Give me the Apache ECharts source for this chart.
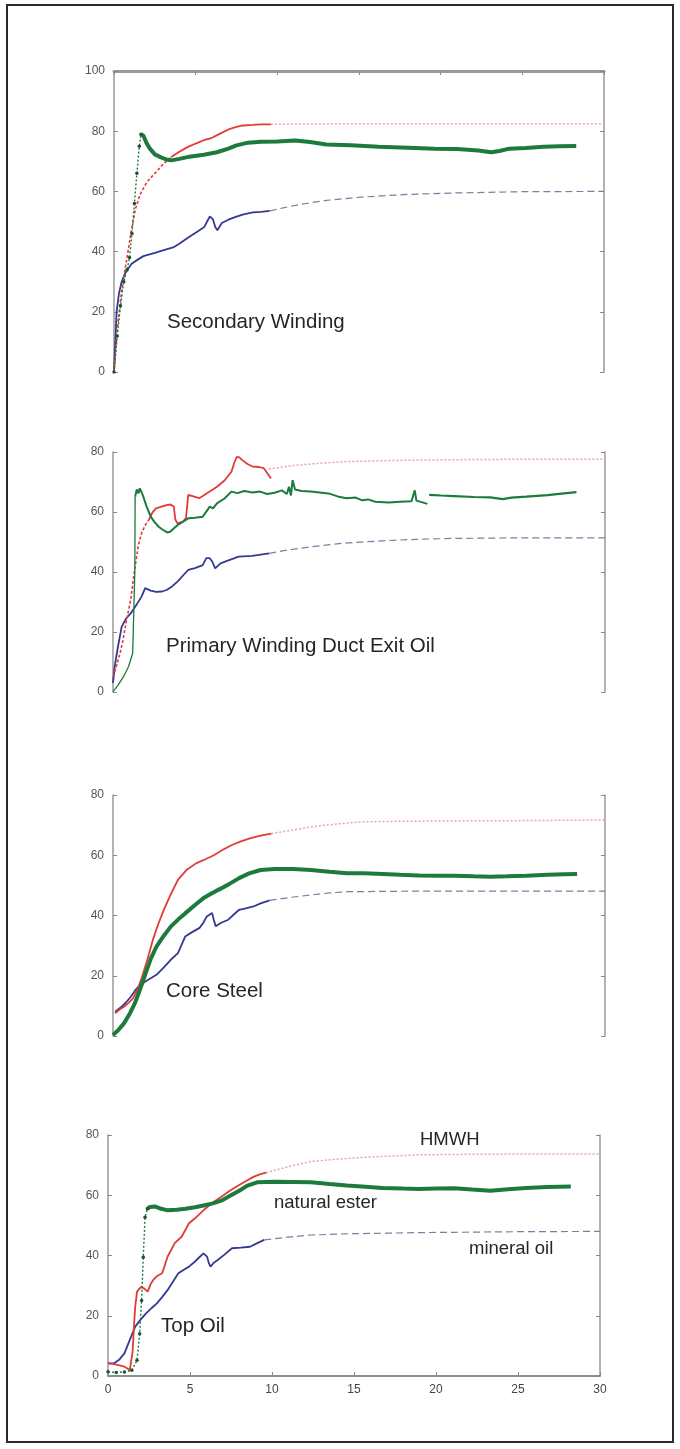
<!DOCTYPE html>
<html>
<head>
<meta charset="utf-8">
<script src="https://cdn.jsdelivr.net/npm/echarts@6/dist/echarts.min.js"></script>
<style>
  html, body { margin: 0; padding: 0; background: #fff; }
  #chart { width: 680px; height: 1449px; }
</style>
</head>
<body>
<div id="chart"></div>
<script>
// Temperature rise (°C) against time (h) for HMWH, natural ester and mineral oil.

const xTickLabels = ['0', '5', '10', '15', '20', '25', '30'];
const panelTitles = ['Secondary Winding', 'Primary Winding Duct Exit Oil', 'Core Steel', 'Top Oil'];
const fluidNames = ['HMWH', 'natural ester', 'mineral oil'];

// ---- Secondary Winding ----
const secRedRise = [[0,0],[0.2,14],[0.4,24],[0.55,30],[0.8,38],[1.0,45],[1.3,54],[1.6,59],[2.0,63],[2.5,66],[3.0,69],[3.5,71.4]];
const secRedMeas = [[3.5,71.4],[4.0,73.2],[4.5,74.7],[5.0,75.9],[5.5,77.0],[6.0,77.8],[6.5,79.2],[7.1,80.8],[7.5,81.4],[7.9,81.9],[8.5,82.1],[9.0,82.3],[9.6,82.3]];
const secRedTrend = [[9.6,82.3],[12,82.4],[15,82.5],[20,82.5],[25,82.5],[30,82.5]];
const secGreenRise = [[0,0],[0.2,12],[0.4,22],[0.6,30],[0.8,34],[0.95,38],[1.1,46],[1.25,56],[1.4,66],[1.55,75],[1.65,79]];
const secGreenMeas = [[1.65,79],[1.8,78.5],[2.0,76],[2.2,74.2],[2.5,72.3],[2.85,71.4],[3.2,70.6],[3.5,70.3],[4.0,70.8],[4.5,71.4],[5.5,72.2],[6.3,73],[7.0,74.2],[7.5,75.3],[8.2,76.2],[9.0,76.5],[10.0,76.6],[11.1,76.9],[12.0,76.4],[13.0,75.6],[14.5,75.3],[16.2,74.8],[18.0,74.5],[19.6,74.2],[21.0,74.1],[22.3,73.6],[23.1,73.0],[23.6,73.4],[24.2,74.2],[25.2,74.4],[26.3,74.8],[27.3,75.0],[28.3,75.1]];
const secBlueMeas = [[0,0],[0.08,10],[0.16,20],[0.3,26],[0.47,30],[0.7,33],[1.08,36],[1.5,37.5],[1.8,38.5],[2.5,39.6],[3.0,40.4],[3.67,41.5],[4.0,42.6],[4.5,44.5],[5.0,46.3],[5.53,48.2],[5.75,50.5],[5.87,51.7],[6.05,50.8],[6.2,48.2],[6.33,47.1],[6.6,49.5],[7.0,50.6],[7.5,51.6],[7.93,52.4],[8.5,53.0],[9.0,53.2],[9.53,53.5]];
const secBlueTrend = [[9.53,53.5],[10.5,54.7],[11.65,55.9],[13,57],[15.1,58.1],[18,59],[21,59.5],[25,59.9],[30,60.0]];

// ---- Primary Winding Duct Exit Oil ----
const priRedRise = [[0,5.1],[0.2,8.5],[0.43,12.9],[0.6,17],[0.75,21.8],[0.9,26],[1.08,30.7],[1.25,38],[1.41,44],[1.55,49],[1.74,52.9],[1.95,55.5],[2.18,57.3]];
const priRedMeas = [[2.18,57.3],[2.4,59.8],[2.62,61.2],[2.95,61.8],[3.27,62.3],[3.5,62.5],[3.71,61.8],[3.8,57.5],[3.93,56.2],[4.26,56.8],[4.45,58],[4.59,65.7],[4.9,65.2],[5.25,64.6],[5.5,65.4],[5.7,66.2],[6.0,67.2],[6.34,68.4],[6.8,70.5],[7.22,73.4],[7.4,76.5],[7.55,78.4],[7.7,78.2],[7.88,77.3],[8.2,76.0],[8.53,75.1],[8.9,75.0],[9.19,74.6],[9.4,73.0],[9.63,71.2]];
const priRedTrend = [[9.5,74.3],[11,75.5],[12.5,76.2],[14.23,76.8],[16.5,77.1],[18.6,77.3],[22,77.5],[26,77.6],[30,77.6]];
const priGreenRise = [[0,0.1],[0.3,2.2],[0.64,5.1],[0.95,8.5],[1.2,12.9],[1.3,13.5],[1.33,40],[1.35,65.1]];
const priGreenMeas = [[1.35,65.1],[1.45,67.5],[1.55,66.2],[1.63,67.9],[1.75,66.5],[1.85,65.1],[2.05,61.8],[2.3,58.5],[2.51,56.8],[2.8,55],[3.06,54],[3.3,53.2],[3.49,53.4],[3.7,54.5],[3.93,55.6],[4.2,56.5],[4.59,57.9],[5.0,58.1],[5.47,58.4],[5.7,60.2],[5.9,61.8],[6.1,61.2],[6.34,62.9],[6.8,64.5],[7.22,66.8],[7.6,66.3],[8.0,67.0],[8.5,66.5],[8.97,66.8],[9.4,66.0],[9.85,66.4],[10.3,67.2],[10.6,66.0],[10.73,68.4],[10.85,65.5],[10.95,70.6],[11.1,67.5],[11.5,67.0],[12.04,66.8],[12.6,66.5],[13.14,66.2],[13.7,65.2],[14.23,64.6],[14.8,64.8],[15.2,63.9],[15.55,64.2],[15.99,63.4],[16.8,63.2],[17.52,63.4],[18.2,63.6],[18.4,67.2],[18.5,63.8],[19.17,62.7]];
const priGreenLate = [[19.28,65.7],[20.0,65.5],[20.81,65.3],[22.0,65.0],[23,64.9],[23.77,64.3],[24.3,64.8],[25.2,65.1],[26.5,65.6],[27.5,66.2],[28.26,66.6]];
const priBlueMeas = [[0,3],[0.1,8.4],[0.3,15],[0.53,21.8],[0.8,24.5],[1.08,26.2],[1.4,28.8],[1.74,31.8],[1.96,34.6],[2.3,33.8],[2.62,33.4],[3.0,33.5],[3.27,34],[3.6,35.2],[3.93,36.8],[4.3,39],[4.59,40.7],[5.0,41.3],[5.47,42.3],[5.69,44.6],[5.9,44.6],[6.05,43.5],[6.23,41.2],[6.56,42.9],[7.0,43.8],[7.66,45.1],[8.5,45.4],[9.0,45.8],[9.52,46.2]];
const priBlueTrend = [[9.52,46.2],[10.5,47.2],[12.04,48.4],[14,49.6],[16.43,50.4],[18.5,50.9],[20.81,51.2],[25,51.4],[30,51.4]];

// ---- Core Steel ----
const coreRedMeas = [[0.13,7.5],[0.4,8.8],[0.67,9.7],[0.95,11],[1.22,12.5],[1.5,15.5],[1.77,19.6],[2.1,25.5],[2.43,31.9],[2.75,37],[3.09,41.8],[3.5,46.8],[3.96,51.8],[4.5,55.2],[5.06,57.3],[5.6,58.6],[6.15,60],[6.7,61.8],[7.25,63.4],[7.8,64.6],[8.35,65.6],[9.0,66.5],[9.66,67.2]];
const coreRedTrend = [[9.66,67.2],[10.8,68.2],[12.07,69.4],[13.5,70.3],[15.14,71.1],[18,71.3],[20.84,71.4],[25,71.5],[30,71.7]];
const coreGreenMeas = [[0,0.3],[0.3,1.8],[0.67,4.2],[1.0,7.2],[1.33,10.8],[1.65,15.5],[1.99,20.8],[2.3,25.6],[2.65,29.7],[3.1,33.3],[3.52,36.3],[4.0,38.8],[4.4,40.7],[5.0,43.5],[5.5,45.7],[6.0,47.3],[6.59,49],[7.1,50.5],[7.69,52.4],[8.3,54.0],[9,55.1],[9.86,55.4],[11,55.4],[12.07,55.1],[13.2,54.5],[14.26,54],[15.3,54.0],[16.45,53.8],[17.5,53.5],[18.65,53.3],[20,53.2],[20.84,53.2],[22,53.0],[23.03,52.9],[24,53.0],[25.2,53.2],[26.5,53.5],[27.5,53.7],[28.3,53.8]];
const coreBlueMeas = [[0.13,8.1],[0.5,9.6],[0.8,11.2],[1.1,13.1],[1.4,15.5],[1.66,17],[2.1,18.5],[2.65,20.3],[3.1,22.8],[3.52,25.3],[3.96,27.5],[4.2,30.5],[4.4,33],[4.8,34.4],[5.28,35.9],[5.5,37.5],[5.72,39.7],[6.04,40.8],[6.15,38.5],[6.26,36.4],[6.6,37.6],[7.03,38.6],[7.4,40.5],[7.69,41.9],[8.1,42.4],[8.56,43],[9.0,44.0],[9.55,45]];
const coreBlueTrend = [[9.55,45],[10.8,46],[12.07,46.8],[13.2,47.5],[14.26,47.9],[16.5,48.0],[18.65,48.1],[24,48.1],[30,48.1]];

// ---- Top Oil ----
const topRedMeas = [[0,4.2],[0.3,4.0],[0.58,3.7],[1.0,3.1],[1.33,2.0],[1.5,8],[1.6,18],[1.66,23],[1.77,28],[2.0,29.5],[2.2,29.1],[2.42,28],[2.6,30.5],[2.76,31.9],[3.0,33.2],[3.3,34.1],[3.45,36.5],[3.63,39.6],[4.07,44.1],[4.5,46.3],[4.94,50.7],[5.4,52.8],[5.82,55],[6.35,57.4],[6.91,59.5],[7.45,61.6],[8,63.4],[8.45,64.8],[8.87,66.1],[9.25,66.9],[9.64,67.5]];
const topRedTrend = [[9.64,67.5],[11,69.5],[12.37,71.2],[14,72.0],[15.65,72.6],[17.3,73.0],[18.93,73.4],[22,73.6],[26,73.7],[30,73.7]];
const topGreenRise = [[0,1.4],[0.5,1.2],[1.0,1.3],[1.45,1.9],[1.77,5.2],[1.93,14],[2.05,25.1],[2.15,39.4],[2.26,52.7],[2.4,55.5]];
const topGreenMeas = [[2.4,55.5],[2.54,56.1],[2.86,56.3],[3.2,55.6],[3.63,55],[4.2,55.2],[4.72,55.5],[5.3,56.0],[5.82,56.6],[6.4,57.3],[6.91,58.2],[7.5,60.0],[8,61.5],[8.5,63.2],[9.09,64.3],[10.18,64.5],[11.3,64.4],[12.37,64.3],[13.5,63.7],[14.56,63.2],[15.7,62.8],[16.74,62.4],[18,62.2],[18.93,62.1],[20,62.2],[21.12,62.3],[22.2,61.9],[23.3,61.5],[24.4,62.0],[25.48,62.4],[26.8,62.7],[28.22,62.9]];
const topBlueMeas = [[0,4.2],[0.37,4.2],[0.7,5.5],[1.0,7.5],[1.33,12],[1.66,16.4],[2.0,18.8],[2.32,20.8],[2.65,22.5],[2.98,24.1],[3.3,26.2],[3.63,28.5],[3.96,31.3],[4.29,34.1],[4.6,35.2],[4.94,36.3],[5.2,37.5],[5.49,39],[5.82,40.7],[6.04,39.6],[6.15,37.5],[6.25,36.3],[6.45,37.6],[6.69,38.5],[7.1,40.3],[7.56,42.4],[8.1,42.6],[8.66,42.9],[9.1,44.1],[9.53,45.2]];
const topBlueTrend = [[9.53,45.2],[11,46.1],[12.37,46.8],[14.5,47.2],[16.74,47.4],[19,47.6],[21.12,47.7],[25,47.9],[30,48]];

// ---- styles ----
const FONT = 'Liberation Sans, Arial, sans-serif';
const C_RED = '#e23a36', C_RED_TREND = '#e7a3b2';
const C_BLUE = '#353994', C_BLUE_TREND = '#7c7ea0';
const C_GREEN = '#1c7a3c', C_GREEN_DOT = '#1a5530';

const panels = [
  { left: 114, top: 71,   width: 490, height: 301, yMax: 100, topFrame: true },
  { left: 113, top: 452,  width: 492, height: 240, yMax: 80 },
  { left: 113, top: 795,  width: 492, height: 241, yMax: 80 },
  { left: 108, top: 1135, width: 492, height: 241, yMax: 80, xLabels: true }
];

const grid = [], xAxis = [], yAxis = [];
panels.forEach((p, i) => {
  grid.push({ left: p.left, top: p.top, width: p.width, height: p.height, containLabel: false });
  const showX = !!(p.topFrame || p.xLabels);
  xAxis.push({
    gridIndex: i, type: 'value', min: 0, max: 30, interval: 5,
    position: p.topFrame ? 'top' : 'bottom',
    axisLine: { show: showX, onZero: false, lineStyle: { color: p.topFrame ? '#9a9a9a' : '#6a6a6a', width: p.topFrame ? 3 : 1.5 } },
    axisTick: { show: showX, inside: true, length: 4, lineStyle: { color: '#888', width: 1 } },
    axisLabel: { show: !!p.xLabels, color: '#444', fontSize: 12, fontFamily: FONT, margin: 8,
                 formatter: v => xTickLabels[Math.round(v / 5)] },
    splitLine: { show: false }
  });
  const yBase = {
    gridIndex: i, type: 'value', min: 0, max: p.yMax, interval: 20,
    splitLine: { show: false },
    axisTick: { show: true, inside: true, length: 4, lineStyle: { color: '#888', width: 1 } }
  };
  yAxis.push(Object.assign({}, yBase, {
    position: 'left',
    axisLine: { show: true, onZero: false, lineStyle: { color: '#9a9a9a', width: 1.5 } },
    axisLabel: { show: true, color: '#555', fontSize: 12, fontFamily: FONT, margin: 9 }
  }));
  yAxis.push(Object.assign({}, yBase, {
    position: 'right',
    axisLine: { show: true, onZero: false, lineStyle: { color: '#9a9a9a', width: 1.5 } },
    axisLabel: { show: false }
  }));
});

function line(panel, data, color, width, type, extra) {
  return Object.assign({
    type: 'line', xAxisIndex: panel, yAxisIndex: panel * 2, data: data,
    showSymbol: false, symbol: 'none', smooth: false, animation: false,
    lineStyle: { color: color, width: width, type: type || 'solid' },
    itemStyle: { color: color }
  }, extra || {});
}
function dotted(panel, data, color, width) {
  return line(panel, data, color, width, [2, 2], {
    showSymbol: true, symbol: 'circle', symbolSize: 3.5,
    itemStyle: { color: C_GREEN_DOT }
  });
}

const series = [
  // Secondary Winding
  line(0, secRedTrend, C_RED_TREND, 1.5, [2, 2]),
  line(0, secBlueTrend, C_BLUE_TREND, 1.2, [7, 4]),
  line(0, secBlueMeas, C_BLUE, 1.8),
  line(0, secRedRise, C_RED, 1.6, [3, 2]),
  line(0, secRedMeas, C_RED, 1.8),
  dotted(0, secGreenRise, C_GREEN, 1.4),
  line(0, secGreenMeas, C_GREEN, 4),
  // Primary Winding Duct Exit Oil
  line(1, priRedTrend, C_RED_TREND, 1.5, [2, 2]),
  line(1, priBlueTrend, C_BLUE_TREND, 1.2, [7, 4]),
  line(1, priBlueMeas, C_BLUE, 1.8),
  line(1, priRedRise, C_RED, 1.6, [3, 2]),
  line(1, priRedMeas, C_RED, 1.8),
  line(1, priGreenRise, C_GREEN, 1.3),
  line(1, priGreenMeas, C_GREEN, 2),
  line(1, priGreenLate, C_GREEN, 2.2),
  // Core Steel
  line(2, coreRedTrend, C_RED_TREND, 1.5, [2, 2]),
  line(2, coreBlueTrend, C_BLUE_TREND, 1.2, [7, 4]),
  line(2, coreBlueMeas, C_BLUE, 1.8),
  line(2, coreRedMeas, C_RED, 1.8),
  line(2, coreGreenMeas, C_GREEN, 4),
  // Top Oil
  line(3, topRedTrend, C_RED_TREND, 1.5, [2, 2]),
  line(3, topBlueTrend, C_BLUE_TREND, 1.2, [7, 4]),
  line(3, topBlueMeas, C_BLUE, 1.8),
  line(3, topRedMeas, C_RED, 1.8),
  dotted(3, topGreenRise, C_GREEN, 1.4),
  line(3, topGreenMeas, C_GREEN, 4)
];

function label(text, x, y, size) {
  return {
    type: 'text', left: x, top: y - size * 0.6, z: 10,
    style: { text: text, fill: '#262626', font: size + 'px ' + FONT }
  };
}

const chart = echarts.init(document.getElementById('chart'), null, { renderer: 'canvas' });
chart.setOption({
  animation: false,
  backgroundColor: '#ffffff',
  grid: grid, xAxis: xAxis, yAxis: yAxis, series: series,
  graphic: [
    { type: 'rect', z: 0, shape: { x: 7, y: 5, width: 666, height: 1437 },
      style: { fill: 'none', stroke: '#2a2a2a', lineWidth: 2 } },
    label(panelTitles[0], 167, 324, 20.5),
    label(panelTitles[1], 166, 648, 20.5),
    label(panelTitles[2], 166, 993, 20.5),
    label(panelTitles[3], 161, 1328, 20.5),
    label(fluidNames[0], 420, 1142, 18.5),
    label(fluidNames[1], 274, 1205, 18.5),
    label(fluidNames[2], 469, 1251, 18.5)
  ]
});
</script>
</body>
</html>
